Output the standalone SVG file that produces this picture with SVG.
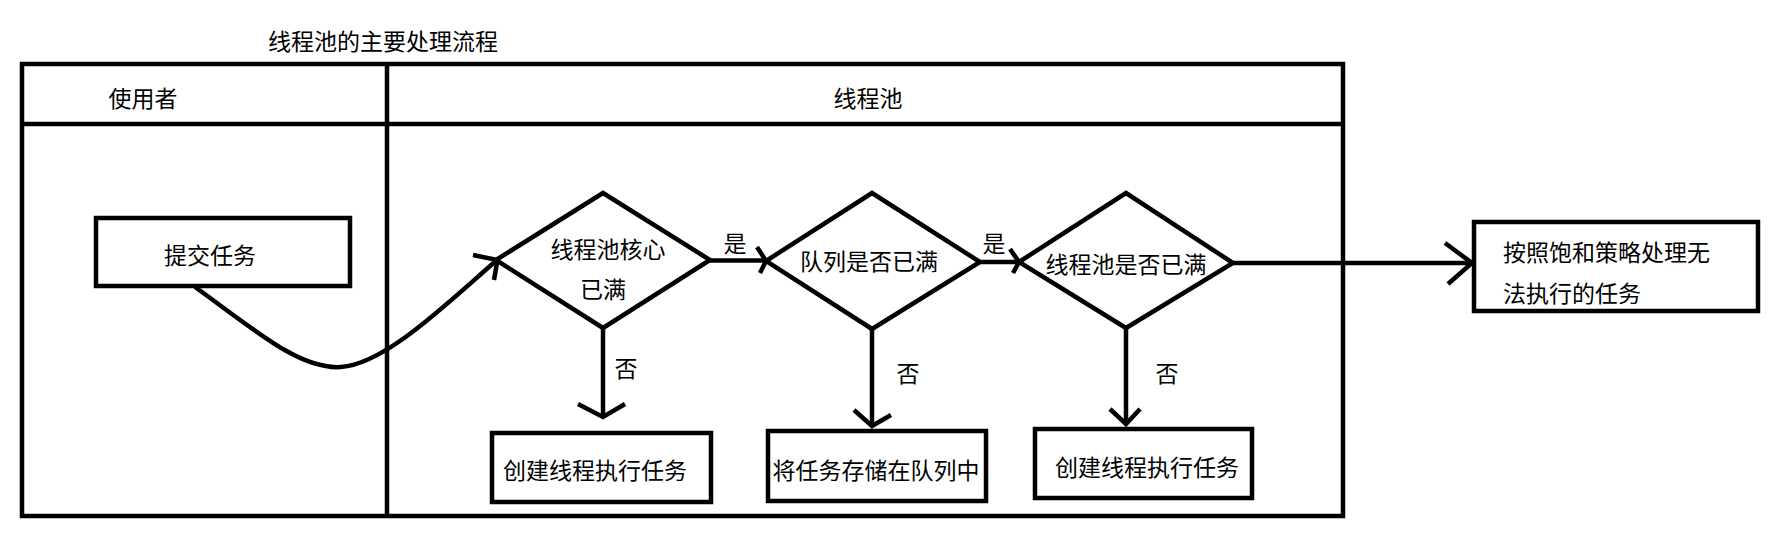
<svg xmlns="http://www.w3.org/2000/svg" width="1781" height="550" viewBox="0 0 1781 550">
<style>
.s{fill:none;stroke:#000;stroke-width:4.5;stroke-linejoin:miter}
.b{fill:#fff;stroke:#000;stroke-width:4.5}
.t{font-family:"Noto Sans CJK SC","Microsoft YaHei",sans-serif;font-size:23px;fill:#000;dominant-baseline:central}
.m{text-anchor:middle}
</style>
<rect width="1781" height="550" fill="#fff"/>
<g id="title"><text class="t m" x="383" y="40">线程池的主要处理流程</text></g>
<g id="swimlanes">
<rect class="s" x="22" y="64" width="1321" height="452"/>
<line class="s" x1="22" y1="124" x2="1343" y2="124"/>
<line class="s" x1="387" y1="64" x2="387" y2="516"/>
<text class="t m" x="143" y="97">使用者</text>
<text class="t m" x="868" y="97">线程池</text>
</g>
<g id="connectors">
<path class="s" d="M195,287 C255,330 300,370 341,367 C385,364 445,305 497,260"/>
<path class="s" d="M473,255 L497.5,260 L494,280"/>
<line class="s" x1="710" y1="260.5" x2="766" y2="260.5"/>
<path class="s" d="M757,247 L766,261 L760,273"/>
<line class="s" x1="980" y1="262" x2="1019" y2="262"/>
<path class="s" d="M1010,249 L1019,262 L1013,273"/>
<line class="s" x1="1233" y1="263" x2="1472" y2="263"/>
<path class="s" d="M1445,243 L1472,263 L1448,284"/>
<line class="s" x1="603" y1="328" x2="603" y2="417"/>
<path class="s" d="M578,404 L603,417 L625,404"/>
<line class="s" x1="872" y1="329" x2="872" y2="426"/>
<path class="s" d="M854,410 L872,426 L891,415"/>
<line class="s" x1="1126" y1="328" x2="1126" y2="424"/>
<path class="s" d="M1110,409 L1126,424 L1140,409"/>
<text class="t m" x="735" y="242">是</text>
<text class="t m" x="994" y="242">是</text>
<text class="t m" x="626" y="367">否</text>
<text class="t m" x="908" y="372">否</text>
<text class="t m" x="1167" y="372">否</text>
</g>
<g id="submit"><rect class="b" x="96" y="218" width="254" height="68"/><text class="t" x="164" y="254">提交任务</text></g>
<g id="d1"><polygon class="s" points="496,260 603,193 710,260 603,328"/><text class="t m" x="608" y="248">线程池核心</text><text class="t m" x="603" y="288">已满</text></g>
<g id="d2"><polygon class="s" points="766,261 872,193 980,262 872,329"/><text class="t m" x="869" y="260">队列是否已满</text></g>
<g id="d3"><polygon class="s" points="1019,262 1126,193 1233,263 1126,328"/><text class="t m" x="1126" y="263">线程池是否已满</text></g>
<g id="create1"><rect class="b" x="492" y="433" width="219" height="69"/><text class="t m" x="595" y="469">创建线程执行任务</text></g>
<g id="queue"><rect class="b" x="768" y="431" width="218" height="70"/><text class="t m" x="876" y="469">将任务存储在队列中</text></g>
<g id="create2"><rect class="b" x="1035" y="429" width="217" height="69"/><text class="t m" x="1147" y="466">创建线程执行任务</text></g>
<g id="reject"><rect class="b" x="1474" y="222" width="284" height="89"/><text class="t" x="1503" y="251">按照饱和策略处理无</text><text class="t" x="1503" y="292">法执行的任务</text></g>
</svg>
